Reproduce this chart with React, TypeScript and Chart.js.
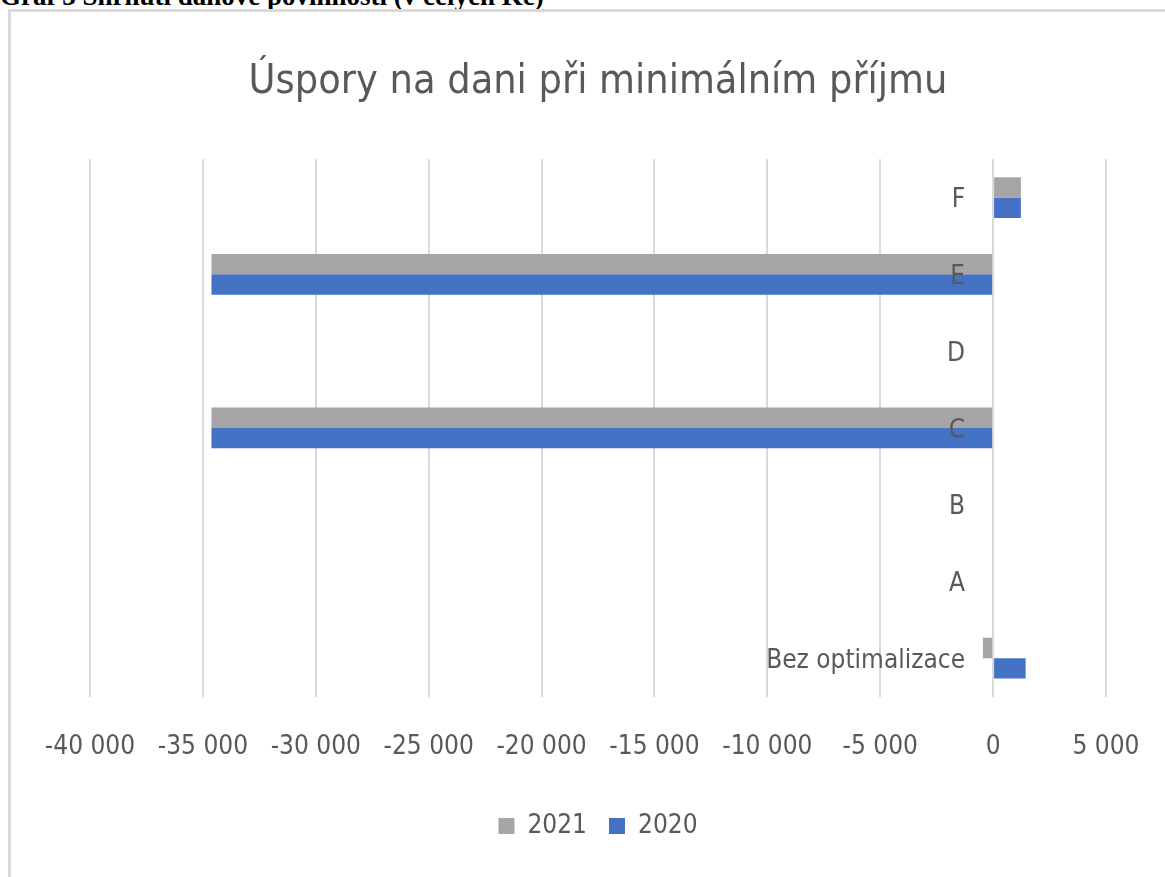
import React, { useEffect, useRef } from "react";
import { Chart, registerables } from "chart.js";

Chart.register(...registerables);

const caption = "Graf 3 Shrnutí daňové povinnosti (v celých Kč)";
const chartTitle = "Úspory na dani při minimálním příjmu";
const categories = ["Bez optimalizace", "A", "B", "C", "D", "E", "F"];
const seriesNames = ["2021", "2020"];
const values2021 = [-450, 0, 0, -34620, 0, -34620, 1230];
const values2020 = [1440, 0, 0, -34620, 0, -34620, 1230];
const xMin = -40000;
const xMax = 5000;
const xStep = 5000;

const FONT = '"Liberation Sans Narrow", "DejaVu Sans Condensed", "Liberation Sans", sans-serif';
const TEXT = "#595959";

const fmt = (v: number) => {
  const s = Math.abs(v).toString().replace(/\B(?=(\d{3})+(?!\d))/g, " ");
  return (v < 0 ? "-" : "") + s;
};

const catLabels = {
  id: "catLabels",
  afterDatasetsDraw(chart: any) {
    const { ctx, scales } = chart;
    const x = scales.x;
    const y = scales.y;
    const x0 = x.getPixelForValue(0);
    ctx.save();
    ctx.font = `26px ${FONT}`;
    ctx.fillStyle = TEXT;
    ctx.textAlign = "right";
    ctx.textBaseline = "middle";
    categories.forEach((c, i) => {
      ctx.fillText(c, x0 - 28, y.getPixelForValue(i) + 3);
    });
    ctx.restore();
  },
};

export default function App() {
  const ref = useRef<HTMLCanvasElement>(null);
  useEffect(() => {
    if (!ref.current) return;
    const chart = new Chart(ref.current, {
      type: "bar",
      data: {
        labels: categories,
        datasets: [
          {
            label: seriesNames[0],
            data: values2021,
            backgroundColor: "#a5a5a5",
            categoryPercentage: 0.53,
            barPercentage: 1,
          },
          {
            label: seriesNames[1],
            data: values2020,
            backgroundColor: "#4472c4",
            categoryPercentage: 0.53,
            barPercentage: 1,
          },
        ],
      },
      options: {
        indexAxis: "y",
        responsive: false,
        animation: false,
        layout: { padding: { left: 90, right: 59, top: 0, bottom: 28 } },
        scales: {
          y: { display: false, reverse: true },
          x: {
            min: xMin,
            max: xMax,
            grid: { color: "#d9d9d9", lineWidth: 2, drawTicks: true, tickLength: 32, tickColor: "rgba(0,0,0,0)" },
            border: { display: false },
            ticks: {
              stepSize: xStep,
              autoSkip: false,
              maxRotation: 0,
              padding: 3,
              color: TEXT,
              font: { family: FONT, size: 26 },
              callback: (v: any) => fmt(Number(v)),
            },
          },
        },
        plugins: {
          title: {
            display: true,
            text: chartTitle,
            color: TEXT,
            font: { family: FONT, size: 41, weight: "normal" },
            padding: { top: 58, bottom: 52 },
          },
          legend: {
            position: "bottom",
            title: { display: true, text: "", font: { size: 1 }, padding: { top: 24, bottom: 0 } },
            labels: {
              boxWidth: 16,
              boxHeight: 16,
              color: TEXT,
              font: { family: FONT, size: 26 },
              padding: 22,
            },
          },
          tooltip: { enabled: false },
        },
      },
      plugins: [catLabels],
    });
    return () => chart.destroy();
  }, []);

  return (
    <div style={{ position: "fixed", left: 0, top: 0, width: 1165, height: 877, overflow: "hidden", background: "#fff" }}>
      <div
        style={{
          position: "absolute",
          left: 0,
          top: -17,
          fontFamily: '"Liberation Serif", "Times New Roman", serif',
          fontWeight: "bold",
          fontSize: 27,
          lineHeight: "27px",
          whiteSpace: "nowrap",
          color: "#000",
        }}
      >
        {caption}
      </div>
      <div
        style={{
          position: "absolute",
          left: 8,
          top: 9,
          width: 1300,
          height: 1000,
          border: "3px solid #d9d9d9",
          boxSizing: "border-box",
        }}
      />
      <canvas ref={ref} width={1165} height={877} style={{ position: "absolute", left: 0, top: 0 }} />
    </div>
  );
}
